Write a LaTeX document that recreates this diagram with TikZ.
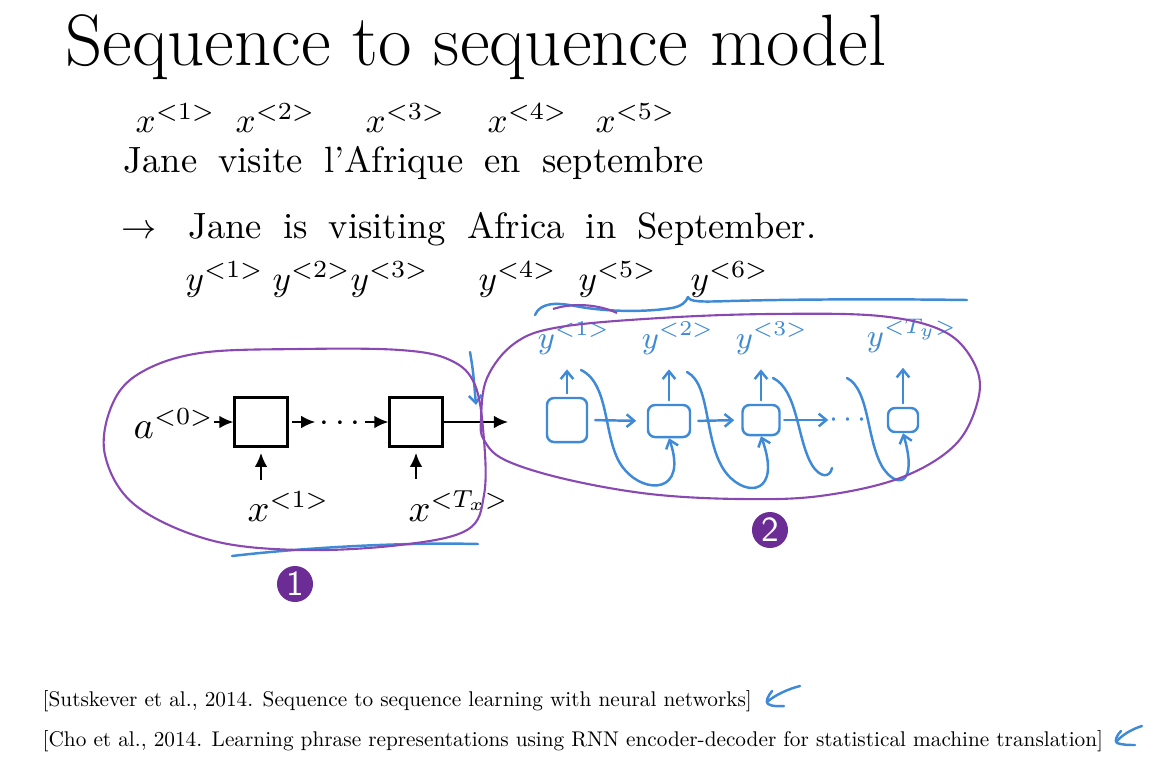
\documentclass[tikz,border=0pt]{standalone}
\usetikzlibrary{arrows.meta,positioning}
\definecolor{penblue}{RGB}{62,138,214}
\definecolor{penpurple}{RGB}{138,72,178}
\definecolor{badgepurple}{RGB}{108,44,150}
\newcommand{\widewords}{\spaceskip=6pt plus 1pt\relax}
\newcommand{\citeline}[1]{\scalebox{0.605}{\fontsize{10}{12}\selectfont #1}}
\tikzset{
  cell/.style={draw,line width=0.6pt,minimum width=0.53cm,minimum height=0.49cm,inner sep=0pt},
  mathlbl/.style={font=\fontsize{10.6}{13}\selectfont,inner sep=0pt,anchor=base west},
  toklbl/.style={font=\fontsize{9.8}{12}\selectfont,inner sep=0pt,anchor=base west},
  sent/.style={font=\fontsize{10.4}{12}\selectfont\widewords,inner sep=0pt,anchor=base west},
  blk/.style={line width=0.6pt,-{Latex[length=4pt,width=3.6pt]}},
  pen/.style={penblue,line width=0.7pt,line cap=round,line join=round},
  penarr/.style={pen,-{Straight Barb[length=2.2pt,width=3.6pt]}},
  pencell/.style={draw=penblue,line width=0.7pt,rounded corners=2pt,inner sep=0pt},
  penlbl/.style={text=penblue,font=\fontsize{9}{10}\selectfont,inner sep=0pt},
  ring/.style={penpurple,line width=0.6pt},
  badge/.style={circle,fill=badgepurple,text=white,minimum size=0.36cm,inner sep=0pt,font=\sffamily\fontsize{10}{10}\selectfont},
  cite/.style={inner sep=0pt,anchor=base west}
}
\begin{document}
\begin{tikzpicture}[x=0.01cm,y=-0.01cm]
\useasboundingbox (0,0) rectangle (1151,772);

% title and sentences
\node[font=\fontsize{20.7}{24}\selectfont,inner sep=0pt,anchor=base west] (title) at (65,65) {Sequence to sequence model};
\node[toklbl] (tx1) at (135,132) {$x^{<1>}$};
\node[toklbl] (tx2) at (235,132) {$x^{<2>}$};
\node[toklbl] (tx3) at (365,132) {$x^{<3>}$};
\node[toklbl] (tx4) at (487,132) {$x^{<4>}$};
\node[toklbl] (tx5) at (595,132) {$x^{<5>}$};
\node[sent] (fr) at (123,172) {Jane visite l'Afrique en septembre};
\node[sent] (en) at (121,238) {$\rightarrow$\hspace{9pt}Jane is visiting Africa in September.};
\node[toklbl] (ty1) at (185,290) {$y^{<1>}$};
\node[toklbl] (ty2) at (272,290) {$y^{<2>}$};
\node[toklbl] (ty3) at (350,290) {$y^{<3>}$};
\node[toklbl] (ty4) at (478,290) {$y^{<4>}$};
\node[toklbl] (ty5) at (578,290) {$y^{<5>}$};
\node[toklbl] (ty6) at (690,290) {$y^{<6>}$};

% encoder
\node[mathlbl] (a0) at (133,438) {$a^{<0>}$};
\node[cell] (c1) at (261,422) {};
\node[inner sep=1pt] (dots) at (340,424) {$\cdots$};
\node[cell] (c2) at (416,422) {};
\coordinate (enc) at (508,422);
\node[mathlbl] (in1) at (247,521) {$x^{<1>}$};
\node[mathlbl] (inT) at (408,521) {$x^{<T_x>}$};

\draw[blk] (a0.east |- c1) -- (c1.west);
\draw[blk,shorten <=1pt] (c1.east) -- (dots.west |- c1);
\draw[blk] (dots.east |- c2) -- (c2.west);
\draw[blk] (c2.east) -- (enc);
\draw[blk,shorten <=3pt,shorten >=1.5pt] (c1.south |- in1.north) -- (c1.south);
\draw[blk,shorten <=3pt,shorten >=1.5pt] (c2.south |- inT.north) -- (c2.south);

% decoder, by hand
\node[pencell,minimum width=0.40cm,minimum height=0.44cm] (d1) at (567,420) {};
\node[pencell,minimum width=0.42cm,minimum height=0.32cm] (d2) at (669,421) {};
\node[pencell,minimum width=0.37cm,minimum height=0.30cm] (d3) at (761,420) {};
\node[penlbl] (ddots) at (848,420) {$\cdots$};
\node[pencell,minimum width=0.30cm,minimum height=0.24cm] (d4) at (903,420) {};
\node[penlbl] (o1) at (574,338) {$y^{<1>}$};
\node[penlbl] (o2) at (678,338) {$y^{<2>}$};
\node[penlbl] (o3) at (772,338) {$y^{<3>}$};
\node[penlbl] (o4) at (912,336) {$y^{<T_y>}$};

\draw[penarr,shorten <=1pt,shorten >=4pt] (d1.north) -- (d1.north |- o1.south);
\draw[penarr,shorten <=1pt,shorten >=4pt] (d2.north) -- (d2.north |- o2.south);
\draw[penarr,shorten <=1pt,shorten >=4pt] (d3.north) -- (d3.north |- o3.south);
\draw[penarr,shorten <=1pt,shorten >=4pt] (d4.north) -- (d4.north |- o4.south);

\draw[penarr,shorten <=2pt,shorten >=3pt] (d1.east) -- (d2.west);
\draw[penarr,shorten <=2pt,shorten >=2pt] (d2.east) -- (d3.west);
\draw[penarr,shorten <=1pt] (d3.east) -- (ddots.west);

\coordinate (f1) at (581,370);
\coordinate (f2) at (687,372);
\coordinate (f3) at (773,378);
\coordinate (g3) at (832,468);
\coordinate (f4) at (847,378);
\draw[penarr] (f1) .. controls (612,385) and (602,445) .. (625,470) .. controls (645,494) and (688,494) .. (d2.south);
\draw[penarr] (f2) .. controls (712,385) and (703,445) .. (727,474) .. controls (747,498) and (782,494) .. (d3.south);
\draw[pen] (f3) .. controls (798,390) and (797,440) .. (812,465) .. controls (820,478) and (830,478) .. (g3);
\draw[penarr] (f4) .. controls (870,390) and (866,440) .. (883,468) .. controls (898,490) and (918,484) .. (d4.south);

% scribbles
\draw[pen] (535,315) .. controls (540,303) and (555,302) .. (575,306) .. controls (600,311) and (640,313) .. (672,308) .. controls (682,306) and (686,302) .. (688,297) .. controls (690,302) and (700,302) .. (730,301) .. controls (800,299) and (900,299) .. (967,300);
\draw[ring] (553,309) .. controls (575,302) and (600,305) .. (617,313);
\draw[penarr] (470,352) .. controls (473,370) .. (476,405);
\draw[pen] (232,556) .. controls (300,548) and (400,542) .. (478,544);

% the two groups
\draw[ring] plot[smooth cycle,tension=0.6] coordinates {(200,353) (300,349) (400,350) (450,360) (475,385) (484,440) (484,495) (467,530) (400,545) (300,550) (210,540) (135,505) (105,455) (112,405) (140,373)};
\draw[ring] plot[smooth cycle,tension=0.6] coordinates {(481,420) (487,378) (515,343) (560,327) (660,318) (770,314) (880,316) (945,332) (975,365) (978,400) (955,445) (900,478) (820,496) (740,499) (650,494) (565,479) (505,460) (484,440)};
\node[badge] (b1) at (295,584) {1};
\node[badge] (b2) at (770,530) {2};

% references
\node[cite] (ref1) at (42,706) {\citeline{[Sutskever et al., 2014. Sequence to sequence learning with neural networks]}};
\node[cite] (ref2) at (42,746) {\citeline{[Cho et al., 2014. Learning phrase representations using RNN encoder-decoder for statistical machine translation]}};
\draw[pen] (800,686) .. controls (788,689) and (775,695) .. (767,702);
\draw[pen] (772,691) .. controls (768,696) and (765,702) .. (768,704) .. controls (773,707) and (780,706) .. (784,706);
\draw[pen] (1142,726) .. controls (1132,729) and (1122,735) .. (1117,741);
\draw[pen] (1121,731) .. controls (1117,735) and (1114,741) .. (1117,743) .. controls (1122,745) and (1130,745) .. (1135,745);
\end{tikzpicture}
\end{document}
